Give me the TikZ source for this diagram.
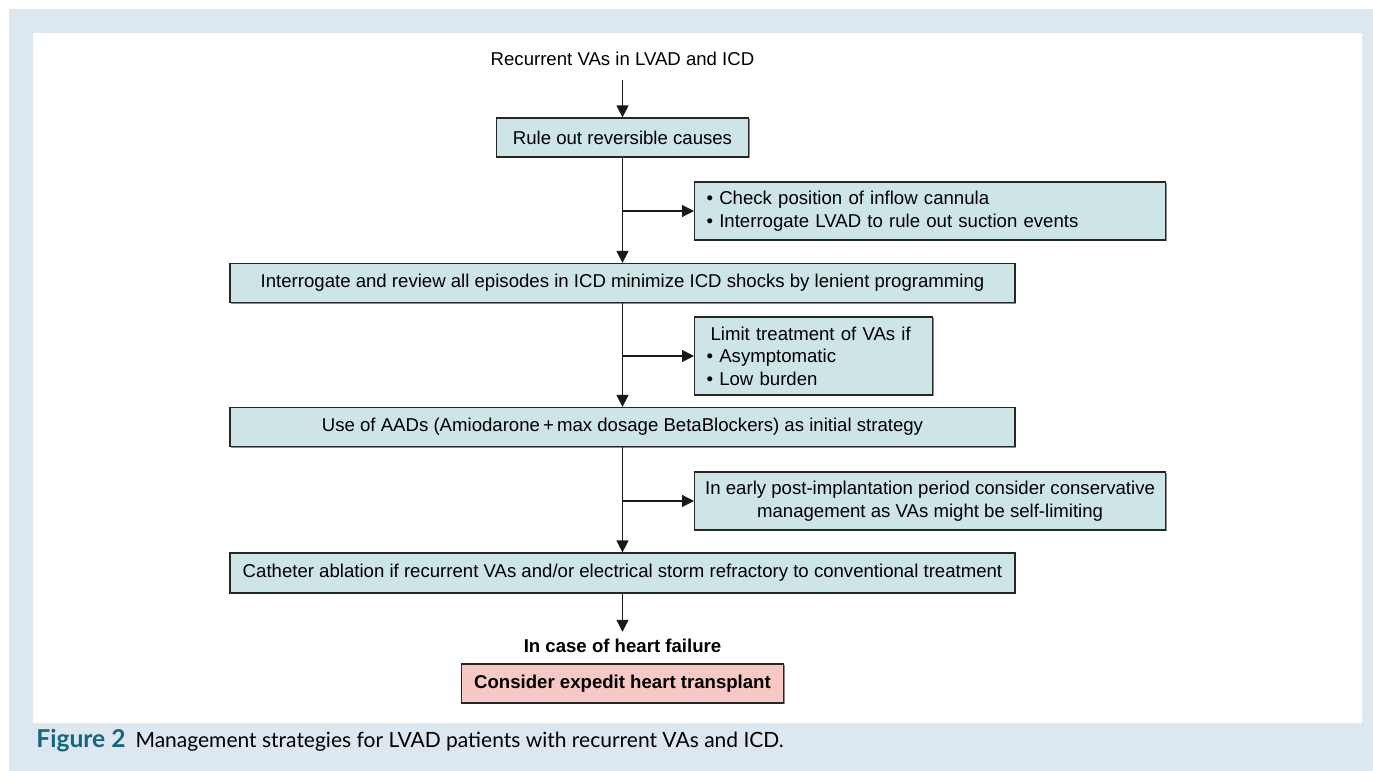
\documentclass[tikz,border=0pt]{standalone}
\usepackage{fontspec}
\setmainfont{Liberation Sans}
\newfontfamily\capfont{Lato}
\usepackage{tikz}
\usetikzlibrary{arrows.meta,positioning,shadows}

\definecolor{framebg}{HTML}{DDE7F0}
\definecolor{boxfill}{HTML}{CDE5E6}
\definecolor{txfill}{HTML}{F6C9C6}
\definecolor{figteal}{HTML}{14667F}

\begin{document}
\begin{tikzpicture}[
  x=0.5pt, y=-0.5pt,
  box/.style={draw=black!85, fill=boxfill, line width=0.6pt, inner sep=0pt,
              minimum height=19.5pt, align=center,
              font=\fontsize{9.3}{11.2}\selectfont,
              drop shadow={shadow xshift=0.6pt, shadow yshift=-0.6pt, fill=black!45, opacity=1}},
  mainbox/.style={box, minimum width=392.5pt},
  sidebox/.style={box, anchor=west, minimum width=235.5pt, minimum height=29pt},
  arr/.style={-{Triangle[length=6pt, width=6pt]}, line width=0.6pt, black!90},
  plain/.style={font=\fontsize{9.3}{11.2}\selectfont, inner sep=0pt}
]
  % frame and panel
  \fill[framebg] (9,9) rectangle (1373,771);
  \fill[white] (33,33) rectangle (1362,723);
  \useasboundingbox (0,0) rectangle (1373,771);

  \node[plain] (start) at (622.5,59) {Recurrent VAs in LVAD and ICD};
  \node[box, minimum width=126pt] (rule) at (622.5,137.5) {Rule out reversible causes};
  \node[sidebox, text width=223.5pt, align=left] (check) at (694,211)
        {\textbullet{} Check position of inflow cannula\\
         \textbullet{} Interrogate LVAD to rule out suction events};
  \node[mainbox] (icd) at (622.5,283)
        {Interrogate and review all episodes in ICD minimize ICD shocks by lenient programming};
  \node[sidebox, minimum width=119pt, minimum height=39pt, text width=107pt, align=left] (limit) at (694,356)
        {\hspace{2pt}Limit treatment of VAs if\\
         \textbullet{} Asymptomatic\\
         \textbullet{} Low burden};
  \node[mainbox] (aad) at (622.5,427)
        {Use of AADs (Amiodarone\,+\,max dosage BetaBlockers) as initial strategy};
  \node[sidebox] (early) at (694,501)
        {In early post-implantation period consider conservative\\
         management as VAs might be self-limiting};
  \node[mainbox, minimum height=20pt] (cath) at (622.5,573)
        {Catheter ablation if recurrent VAs and/or electrical storm refractory to conventional treatment};
  \node[plain, font=\fontsize{9.3}{11.2}\selectfont\bfseries] (hf) at (622.5,646) {In case of heart failure};
  \node[box, fill=txfill, minimum width=161pt, font=\fontsize{9.3}{11.2}\selectfont\bfseries] (tx) at (622.5,683.5)
        {Consider expedit heart transplant};

  \draw[arr] ([yshift=-7pt]start.south) -- (rule);
  \draw[arr] (rule) -- (icd);
  \draw[arr] (rule.south |- check.west) -- (check.west);
  \draw[arr] (icd) -- (aad);
  \draw[arr] (icd.south |- limit.west) -- (limit.west);
  \draw[arr] (aad) -- (cath);
  \draw[arr] (aad.south |- early.west) -- (early.west);
  \draw[arr] (cath.south) -- ([yshift=3.5pt]hf.north);

  % caption
  \node[anchor=base west, inner sep=0pt, font=\capfont\fontsize{10.5}{12}\selectfont] (cap) at (36,747)
        {\textcolor{figteal}{\fontsize{12.3}{14}\selectfont\bfseries Figure 2}\hspace{5pt}Management strategies for LVAD patients with recurrent VAs and ICD.};
\end{tikzpicture}
\end{document}
